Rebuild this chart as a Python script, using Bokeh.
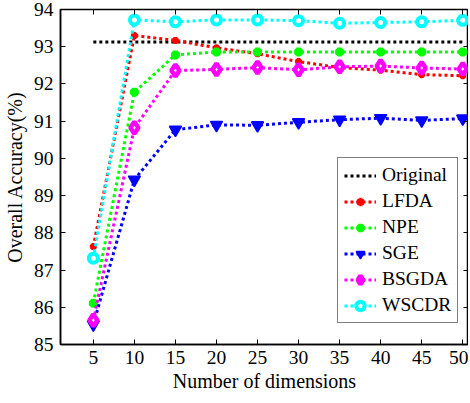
from bokeh.plotting import figure
from bokeh.models import FixedTicker, LinearAxis, Range1d
from bokeh.embed import file_html
from bokeh.resources import INLINE

dims = [5, 10, 15, 20, 25, 30, 35, 40, 45, 50]
original = [93.13] * 10
lfda = [87.63, 93.30, 93.17, 92.97, 92.81, 92.60, 92.44, 92.37, 92.25, 92.22]
npe = [86.11, 91.78, 92.78, 92.86, 92.86, 92.86, 92.86, 92.86, 92.86, 92.86]
sge = [85.54, 89.43, 90.77, 90.90, 90.89, 90.97, 91.04, 91.08, 91.02, 91.07]
bsgda = [85.65, 90.82, 92.36, 92.39, 92.44, 92.38, 92.46, 92.48, 92.43, 92.40]
wscdr = [87.32, 93.72, 93.67, 93.72, 93.72, 93.70, 93.63, 93.65, 93.67, 93.71]
y_ticks = [85, 86, 87, 88, 89, 90, 91, 92, 93, 94]

FONT = "Liberation Serif"

p = figure(frame_width=408, frame_height=335, output_backend="svg",
           toolbar_location=None, x_range=Range1d(1, 50.7), y_range=Range1d(85, 94),
           min_border_left=54, min_border_top=9, min_border_bottom=51, min_border_right=0)
p.grid.visible = False
p.outline_line_color = "black"
p.outline_line_width = 1.5
p.background_fill_color = "white"
p.border_fill_color = "white"

xt = FixedTicker(ticks=dims)
yt = FixedTicker(ticks=y_ticks)
p.xaxis.ticker = xt
p.yaxis.ticker = yt

for ax in [p.xaxis[0], p.yaxis[0]]:
    ax.major_tick_in = 5
    ax.major_tick_out = 0
    ax.minor_tick_line_color = None
    ax.axis_line_width = 1.5
    ax.major_tick_line_width = 1
    ax.major_label_text_font = FONT
    ax.major_label_text_font_size = "19.5px"
    ax.major_label_text_color = "black"
    ax.axis_label_text_font = FONT
    ax.axis_label_text_font_size = "20px"
    ax.axis_label_text_font_style = "normal"
    ax.axis_label_text_color = "black"

p.xaxis.axis_label = "Number of dimensions"
p.yaxis.axis_label = "Overall Accuracy(%)"
p.yaxis.major_label_standoff = 7
p.yaxis.axis_label_standoff = 5
p.xaxis.major_label_standoff = 6
p.xaxis.axis_label_standoff = 3

for loc, tk, ticks in [("above", xt, dims), ("right", yt, y_ticks)]:
    ax = LinearAxis(ticker=tk, major_tick_in=5, major_tick_out=0,
                    minor_tick_line_color=None, major_label_standoff=0,
                    major_label_overrides={t: "" for t in ticks},
                    axis_line_color=None)
    p.add_layout(ax, loc)

dash = "3 3"
lw = 3

p.line(dims, original, color="black", line_width=lw, line_dash=dash, legend_label="Original")

p.line(dims, lfda, color="#ff0000", line_width=lw, line_dash=dash, legend_label="LFDA")
p.scatter(dims, lfda, marker="asterisk", size=7, line_color="#ff0000", line_width=2.5,
          legend_label="LFDA")

p.line(dims, npe, color="#00ff00", line_width=lw, line_dash=dash, legend_label="NPE")
p.scatter(dims, npe, marker="asterisk", size=9, line_color="#00ff00", line_width=3.5,
          legend_label="NPE")

p.line(dims, sge, color="#0000ff", line_width=lw, line_dash=dash, legend_label="SGE")
p.scatter(dims, sge, marker="inverted_triangle", size=12, line_color="#0000ff",
          fill_color="#0000ff", line_width=1.5, legend_label="SGE")

p.line(dims, bsgda, color="#ff00ff", line_width=lw, line_dash=dash, legend_label="BSGDA")
p.scatter(dims, bsgda, marker="diamond", size=12, line_color="#ff00ff",
          fill_color="white", line_width=4.5, legend_label="BSGDA")

p.line(dims, wscdr, color="#00ffff", line_width=lw, line_dash=dash, legend_label="WSCDR")
p.scatter(dims, wscdr, marker="circle", size=9, line_color="#00ffff",
          fill_color="white", line_width=4, legend_label="WSCDR")

lg = p.legend[0]
lg.location = (277, 21)
lg.border_line_color = "black"
lg.border_line_width = 1
lg.background_fill_alpha = 1
lg.padding = 6
lg.margin = 0
lg.spacing = 4
lg.glyph_width = 32
lg.glyph_height = 21
lg.label_height = 21
lg.label_standoff = 6
lg.label_text_font = FONT
lg.label_text_font_size = "19.5px"
lg.label_text_color = "black"

open("out.html", "w").write(file_html(p, INLINE))
